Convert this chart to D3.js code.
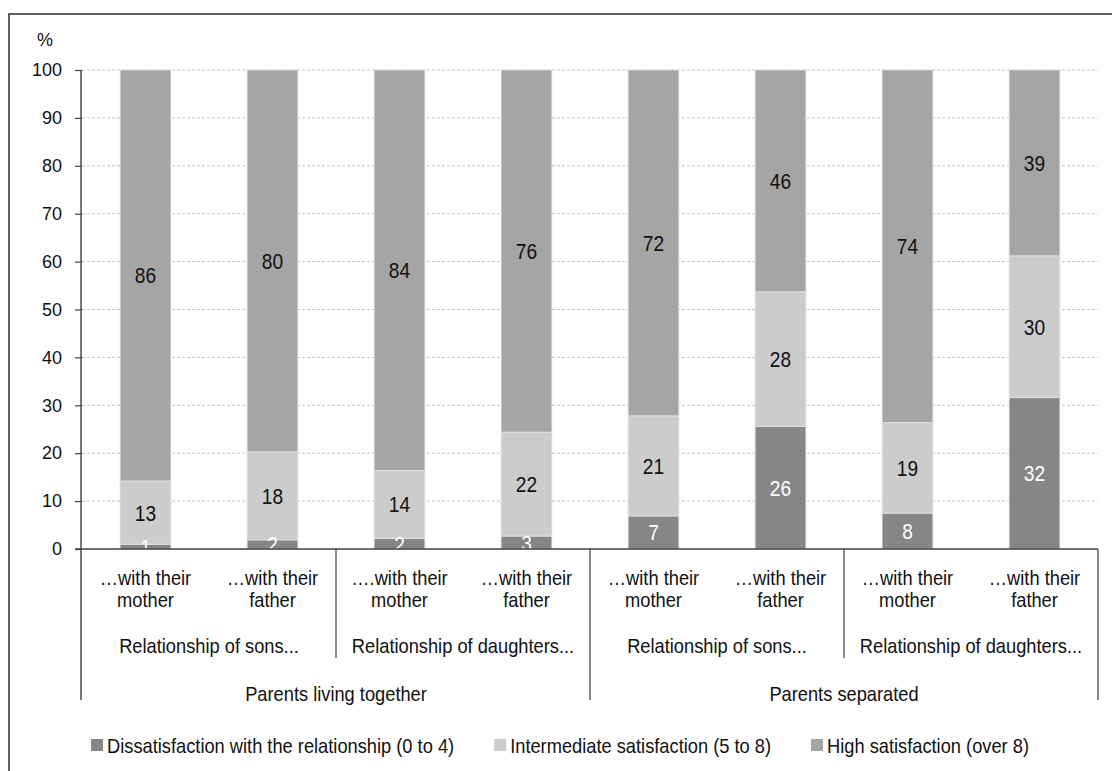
<!DOCTYPE html>
<html>
<head>
<meta charset="utf-8">
<script src="https://cdn.jsdelivr.net/npm/d3@7/dist/d3.min.js"></script>
<style>
  html, body { margin: 0; padding: 0; background: #fff; }
  svg { display: block; }
  text { font-family: "Liberation Sans", Arial, sans-serif; font-size: 18px; fill: #111; }
  .lab { font-size: 21px; }
  .val { font-size: 22px; }
</style>
</head>
<body>
<svg id="chart" width="1112" height="771"></svg>
<script>
// Satisfaction of children with their relationship to each parent (%)
const categories = [
  "…with their\nmother", "…with their\nfather",
  "….with their\nmother", "…with their\nfather",
  "…with their\nmother", "…with their\nfather",
  "…with their\nmother", "…with their\nfather"
];
const subgroups = ["Relationship of sons...", "Relationship of daughters...",
                   "Relationship of sons...", "Relationship of daughters..."];
const groups = ["Parents living together", "Parents separated"];
const seriesNames = [
  "Dissatisfaction with the relationship (0 to 4)",
  "Intermediate satisfaction (5 to 8)",
  "High satisfaction (over 8)"
];
const dissatisfied = [1.0, 1.9, 2.2, 2.7, 6.9, 25.6, 7.5, 31.6];
const intermediate = [13.2, 18.4, 14.2, 21.7, 20.9, 28.1, 18.9, 29.6];
const high = [85.8, 79.7, 83.6, 75.6, 72.2, 46.3, 73.6, 38.8];
const yTicks = [0, 10, 20, 30, 40, 50, 60, 70, 80, 90, 100];

const colors = ["#868686", "#cbcccb", "#a5a5a5"];
const labelColors = ["#ffffff", "#111111", "#111111"];

const svg = d3.select("#chart");
const W = 1112, H = 771;
const plot = { left: 82, right: 1098, top: 70, bottom: 549 };
const SX = 0.87; // horizontal squeeze of the label font

// text drawn with a slightly condensed face
function squeezed(parent, cx, cy, lines, cls, anchor = "middle", lineH = 22) {
  const t = parent.append("text")
    .attr("class", cls)
    .attr("text-anchor", anchor)
    .attr("transform", `translate(${cx},${cy}) scale(${SX},1)`);
  lines.forEach((ln, j) => t.append("tspan").attr("x", 0).attr("y", j * lineH).text(ln));
  return t;
}

// outer frame
svg.append("rect")
  .attr("x", 9).attr("y", 14)
  .attr("width", W).attr("height", H)
  .attr("fill", "none").attr("stroke", "#3a3a3a").attr("stroke-width", 1.6);

const rows = categories.map((c, i) => ({
  key: i, dis: dissatisfied[i], mid: intermediate[i], high: high[i]
}));
const keys = ["dis", "mid", "high"];

const x = d3.scaleBand()
  .domain(d3.range(categories.length))
  .range([plot.left, plot.right])
  .paddingInner(0.6).paddingOuter(0.3);
const step = x.step();

const y = d3.scaleLinear().domain([0, 100]).range([plot.bottom, plot.top]);

// dashed gridlines
svg.append("g")
  .selectAll("line")
  .data(yTicks.filter(t => t > 0))
  .join("line")
  .attr("x1", plot.left).attr("x2", plot.right)
  .attr("y1", d => y(d)).attr("y2", d => y(d))
  .attr("stroke", "#c4c4c4").attr("stroke-width", 1)
  .attr("stroke-dasharray", "3,2");

// stacked bars
const stacked = d3.stack().keys(keys)(rows);
const layers = svg.append("g")
  .selectAll("g")
  .data(stacked)
  .join("g")
  .attr("fill", (d, i) => colors[i]);

layers.selectAll("rect")
  .data(d => d)
  .join("rect")
  .attr("x", d => x(d.data.key))
  .attr("width", x.bandwidth())
  .attr("y", d => y(d[1]))
  .attr("height", d => y(d[0]) - y(d[1]))
  .attr("stroke", "#e4e4e4").attr("stroke-width", 0.8);

// value labels
const lbl = svg.append("g");
stacked.forEach((layer, li) => {
  layer.forEach(d => {
    squeezed(lbl, x(d.data.key) + x.bandwidth() / 2, y((d[0] + d[1]) / 2) + 8,
      [String(Math.round(d[1] - d[0]))], "val")
      .style("fill", labelColors[li]);
  });
});

// y axis
const yAxis = d3.axisLeft(y).tickValues(yTicks).tickSize(7).tickPadding(13).tickFormat(d3.format("d"));
const ya = svg.append("g").attr("transform", `translate(${plot.left},0)`).call(yAxis);
ya.select(".domain").remove();
ya.selectAll(".tick line").attr("stroke", "#404040").attr("stroke-width", 1.2);
ya.selectAll(".tick text").attr("font-size", null).attr("font-family", null).style("fill", "#111");

svg.append("text").attr("x", 45).attr("y", 46).attr("text-anchor", "middle").text("%");

// axis lines
const axisColor = "#404040";
svg.append("line")
  .attr("x1", plot.left - 1).attr("x2", plot.left - 1)
  .attr("y1", plot.top).attr("y2", 700)
  .attr("stroke", axisColor).attr("stroke-width", 1.4);
svg.append("line")
  .attr("x1", plot.left - 7).attr("x2", plot.right)
  .attr("y1", plot.bottom).attr("y2", plot.bottom)
  .attr("stroke", axisColor).attr("stroke-width", 1.4);

// multi-level category axis
const catG = svg.append("g");
categories.forEach((c, i) => {
  squeezed(catG, x(i) + x.bandwidth() / 2, 585, c.split("\n"), "lab");
});

const perSub = categories.length / subgroups.length;
subgroups.forEach((s, i) => {
  const x0 = x(i * perSub) - step * 0.3;
  squeezed(catG, x0 + step * perSub / 2, 653, [s], "lab");
  if (i % 2 === 1) return;
  const xs = x0 + step * perSub;
  catG.append("line")
    .attr("x1", xs).attr("x2", xs).attr("y1", plot.bottom).attr("y2", 658)
    .attr("stroke", axisColor).attr("stroke-width", 1.2);
});

const perGroup = categories.length / groups.length;
groups.forEach((g, i) => {
  const x0 = x(i * perGroup) - step * 0.3;
  squeezed(catG, x0 + step * perGroup / 2, 701, [g], "lab");
  const xs = x0 + step * perGroup;
  catG.append("line")
    .attr("x1", xs).attr("x2", xs).attr("y1", plot.bottom).attr("y2", 700)
    .attr("stroke", axisColor).attr("stroke-width", 1.2);
});

// legend
const leg = svg.append("g");
const items = seriesNames.map((name, i) => {
  const g = leg.append("g");
  g.append("rect").attr("width", 12).attr("height", 12).attr("y", -6).attr("fill", colors[i]);
  const t = squeezed(g, 16, 7.5, [name], "lab", "start");
  return { g, w: 16 + t.node().getComputedTextLength() * SX };
});
const gap = 40;
const total = d3.sum(items, d => d.w) + gap * (items.length - 1);
let cursor = 560 - total / 2;
items.forEach(it => {
  it.g.attr("transform", `translate(${cursor},745)`);
  cursor += it.w + gap;
});
</script>
</body>
</html>
